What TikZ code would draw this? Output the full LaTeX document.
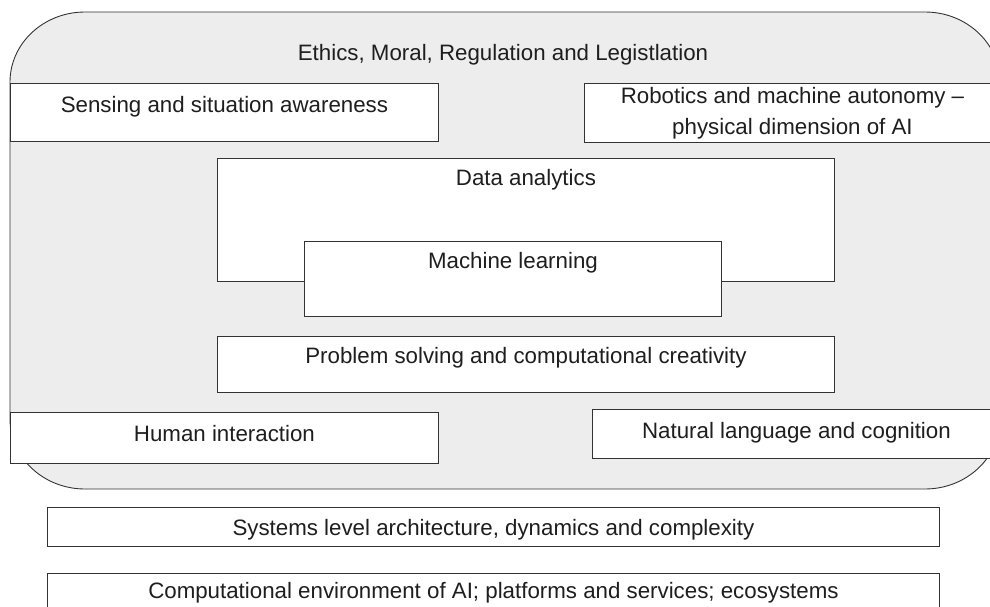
\documentclass[tikz,border=0pt]{standalone}
\usepackage{fontspec}
\setmainfont{Liberation Sans}
\definecolor{edge}{HTML}{333333}
\definecolor{ink}{HTML}{1E1E1E}
\definecolor{shade}{HTML}{EDEDED}
\begin{document}
\begin{tikzpicture}[x=1pt, y=-1pt,
  panel/.style={draw=edge, fill=white, line width=0.9pt, inner sep=0pt,
    anchor=north west, align=center, text=ink,
    font=\fontsize{22.3}{31}\selectfont},
  caption/.style={inner sep=0pt, text=ink, font=\fontsize{22.3}{31}\selectfont}]
\useasboundingbox (0,0) rectangle (990,607);
\clip (0,0) rectangle (990,607);

% enclosing governance layer with rounded corners
\draw[draw=edge, fill=shade, line width=0.9pt]
  (85,12) -- (925,12)
  arc[start angle=90, end angle=0, x radius=75, y radius=-70]
  -- (1000,419)
  arc[start angle=0, end angle=-90, x radius=75, y radius=-70]
  -- (85,489)
  arc[start angle=270, end angle=180, x radius=75, y radius=-70]
  -- (10,82)
  arc[start angle=180, end angle=90, x radius=75, y radius=-70]
  -- cycle;
\node[caption] (ethics) at (503,55) {Ethics, Moral, Regulation and Legistlation};

% capability panels
\node[panel, minimum width=428, text height=29, text depth=29] (sense) at (10,83)
  {Sensing and situation awareness};
\node[panel, minimum width=416, minimum height=59] (robot) at (584,83)
  {Robotics and machine autonomy --\\physical dimension of AI};
\node[panel, minimum width=617, text height=27, text depth=96] (data) at (217,158)
  {Data analytics};
\node[panel, minimum width=417, text height=27, text depth=48] (ml) at (304,241)
  {Machine learning};
\node[panel, minimum width=617, text height=27, text depth=29] (solve) at (217,336)
  {Problem solving and computational creativity};
\node[panel, minimum width=428, text height=29, text depth=22] (human) at (10,412)
  {Human interaction};
\node[panel, minimum width=408, text height=29, text depth=20] (lang) at (592,409)
  {Natural language and cognition};

% supporting layers
\node[panel, minimum width=892, text height=28, text depth=11] (sys) at (47,507)
  {Systems level architecture, dynamics and complexity};
\node[panel, minimum width=892, text height=25, text depth=14] (env) at (47,573)
  {Computational environment of AI; platforms and services; ecosystems};
\end{tikzpicture}
\end{document}
